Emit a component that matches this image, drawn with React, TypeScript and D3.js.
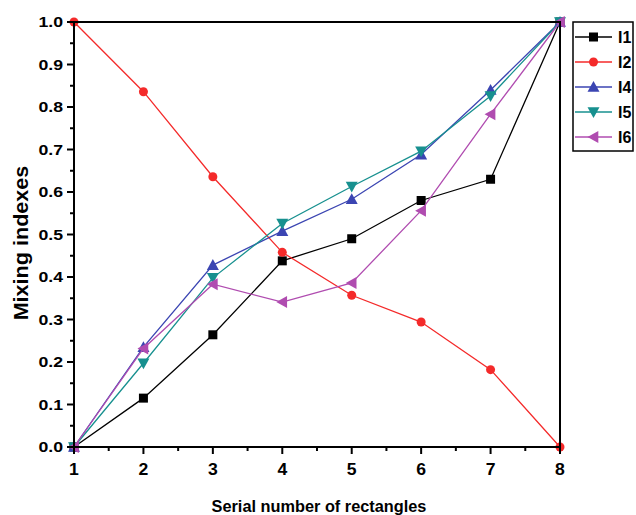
import React from "react";
import * as d3 from "d3";

const xValues = [1, 2, 3, 4, 5, 6, 7, 8];
const seriesNames = ["I1", "I2", "I4", "I5", "I6"];
const I1 = [0, 0.115, 0.264, 0.438, 0.49, 0.58, 0.63, 1.0];
const I2 = [1.0, 0.836, 0.636, 0.458, 0.357, 0.294, 0.182, 0];
const I4 = [0, 0.235, 0.428, 0.508, 0.583, 0.688, 0.84, 1.0];
const I5 = [0, 0.197, 0.398, 0.526, 0.613, 0.696, 0.826, 1.0];
const I6 = [0, 0.232, 0.383, 0.341, 0.386, 0.556, 0.783, 1.0];
const seriesValues = [I1, I2, I4, I5, I6];
const colors = ["#000000", "#f42a2a", "#3b45b2", "#17908f", "#b04cb0"];
const markers = ["square", "circle", "triUp", "triDown", "triLeft"];
const xTicks = [1, 2, 3, 4, 5, 6, 7, 8];
const yTicks = [0, 0.1, 0.2, 0.3, 0.4, 0.5, 0.6, 0.7, 0.8, 0.9, 1.0];

const W = 636, H = 515;
const L = 74, R = 560, T = 22, B = 447;

function Marker({ type, x, y, color }: { type: string; x: number; y: number; color: string }) {
  if (type === "square") return <rect x={x - 4.5} y={y - 4.5} width={9} height={9} fill={color} />;
  if (type === "circle") return <circle cx={x} cy={y} r={4.5} fill={color} />;
  const s = 6;
  let pts: number[][] = [];
  if (type === "triUp") pts = [[x, y - s], [x + s, y + s * 0.8], [x - s, y + s * 0.8]];
  if (type === "triDown") pts = [[x, y + s], [x + s, y - s * 0.8], [x - s, y - s * 0.8]];
  if (type === "triLeft") pts = [[x - s, y], [x + s * 0.8, y - s], [x + s * 0.8, y + s]];
  return <polygon points={pts.map((p) => p.join(",")).join(" ")} fill={color} />;
}

export default function App() {
  const x = d3.scaleLinear().domain([1, 8]).range([L, R]);
  const y = d3.scaleLinear().domain([0, 1]).range([B, T]);
  const line = d3.line<number>().x((_, i) => x(xValues[i])).y((d) => y(d));
  const xMinor = d3.range(1.5, 8, 1);
  const yMinor = d3.range(0.05, 1, 0.1);
  const font = "'Liberation Sans', Arial, sans-serif";
  return (
    <svg width={W} height={H} style={{ position: "absolute", left: 0, top: 0 }} fontFamily={font}>
      <rect width={W} height={H} fill="#fff" />
      {seriesValues.map((vals, si) => (
        <g key={si}>
          <path d={line(vals) || ""} fill="none" stroke={colors[si]} strokeWidth={1.3} />
          {vals.map((v, i) => (
            <Marker key={i} type={markers[si]} x={x(xValues[i])} y={y(v)} color={colors[si]} />
          ))}
        </g>
      ))}
      <rect x={L} y={T} width={R - L} height={B - T} fill="none" stroke="#000" strokeWidth={2} />
      {xTicks.map((t) => (
        <g key={t}>
          <line x1={x(t)} x2={x(t)} y1={B} y2={B + 7} stroke="#000" strokeWidth={2} />
          <text transform={`translate(${x(t)},475) scale(1.1,1)`} textAnchor="middle" fontSize={16} fontWeight="bold">{t}</text>
        </g>
      ))}
      {xMinor.map((t) => (
        <line key={t} x1={x(t)} x2={x(t)} y1={B} y2={B + 4} stroke="#000" strokeWidth={2} />
      ))}
      {yTicks.map((t) => (
        <g key={t}>
          <line x1={L - 7} x2={L} y1={y(t)} y2={y(t)} stroke="#000" strokeWidth={2} />
          <text transform={`translate(63,${y(t) + 5}) scale(1.22,1)`} textAnchor="end" fontSize={14.5} fontWeight="bold">{t.toFixed(1)}</text>
        </g>
      ))}
      {yMinor.map((t) => (
        <line key={t} x1={L - 4} x2={L} y1={y(t)} y2={y(t)} stroke="#000" strokeWidth={2} />
      ))}
      <text transform={`translate(28,243) rotate(-90) scale(1.08,1)`} textAnchor="middle" fontSize={20} fontWeight="bold">Mixing indexes</text>
      <text transform={`translate(${(L + R) / 2 + 2},512) scale(0.96,1)`} textAnchor="middle" fontSize={17} fontWeight="bold">Serial number of rectangles</text>
      <rect x={573} y={22} width={60} height={129} fill="#fff" stroke="#000" strokeWidth={1.5} />
      {seriesNames.map((n, i) => {
        const ly = 37 + i * 25;
        return (
          <g key={n}>
            <line x1={575} x2={612} y1={ly} y2={ly} stroke={colors[i]} strokeWidth={1.3} />
            <Marker type={markers[i]} x={593.5} y={ly} color={colors[i]} />
            <text x={618} y={ly + 6} fontSize={16} fontWeight="bold">{n}</text>
          </g>
        );
      })}
    </svg>
  );
}
